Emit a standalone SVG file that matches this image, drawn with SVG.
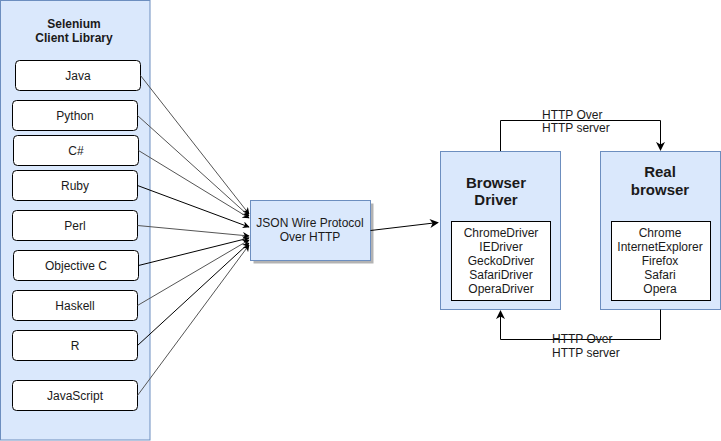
<svg xmlns="http://www.w3.org/2000/svg" width="721" height="441" viewBox="0 0 721 441">
<defs>
<marker id="ah" viewBox="0 0 10 10" refX="9" refY="5" markerWidth="7" markerHeight="7" markerUnits="userSpaceOnUse" orient="auto">
<path d="M0,0 L10,5 L0,10 L3,5 Z" fill="#000"/>
</marker>
<marker id="ah2" viewBox="0 0 10 10" refX="9" refY="5" markerWidth="9" markerHeight="9" markerUnits="userSpaceOnUse" orient="auto">
<path d="M0,0 L10,5 L0,10 L3,5 Z" fill="#000"/>
</marker>
</defs>
<style>
text{font-family:"Liberation Sans",Arial,sans-serif;font-size:12px;fill:#1a1a1a;text-anchor:middle}
.b{font-weight:bold}
.big{font-size:15px;font-weight:bold}
.blue{fill:#dae8fc;stroke:#6c8ebf;stroke-width:1}
.lang{fill:#fff;stroke:#000;stroke-width:1}
.inner{fill:#fff;stroke:#000;stroke-width:1}
.c{fill:none;stroke:#000;stroke-width:1}
.g{stroke:#555}
.l{text-anchor:start}
</style>
<rect width="721" height="441" fill="#fff"/>
<g id="client-library">
<rect class="blue" x="0.5" y="0.5" width="149.5" height="439.5"/>
<text class="b" x="74" y="28">Selenium</text>
<text class="b" x="74" y="42">Client Library</text>
</g>
<g id="java"><rect class="lang" x="15.5" y="60.5" width="125" height="30" rx="4"/><text x="78" y="79.5">Java</text></g>
<g id="python"><rect class="lang" x="12.5" y="100.5" width="125" height="30" rx="4"/><text x="75" y="119.5">Python</text></g>
<g id="csharp"><rect class="lang" x="13.5" y="135.5" width="125" height="30" rx="4"/><text x="76" y="154.5">C#</text></g>
<g id="ruby"><rect class="lang" x="12.5" y="170.5" width="125" height="30" rx="4"/><text x="75" y="189.5">Ruby</text></g>
<g id="perl"><rect class="lang" x="12.5" y="210.5" width="125" height="30" rx="4"/><text x="75" y="229.5">Perl</text></g>
<g id="objective-c"><rect class="lang" x="13.5" y="250.5" width="125" height="30" rx="4"/><text x="76" y="269.5">Objective C</text></g>
<g id="haskell"><rect class="lang" x="12.5" y="290.5" width="125" height="30" rx="4"/><text x="75" y="309.5">Haskell</text></g>
<g id="r"><rect class="lang" x="12.5" y="330.5" width="125" height="30" rx="4"/><text x="75" y="349.5">R</text></g>
<g id="javascript"><rect class="lang" x="12.5" y="380.5" width="125" height="30" rx="4"/><text x="75" y="399.5">JavaScript</text></g>
<g id="json-wire">
<rect x="253.5" y="203.5" width="120" height="60" fill="#b3b3b3"/>
<rect class="blue" x="250.5" y="200.5" width="120" height="60"/>
<text x="310" y="227">JSON Wire Protocol</text>
<text x="310" y="241">Over HTTP</text>
</g>
<g id="browser-driver">
<rect class="blue" x="440.5" y="151.5" width="120" height="158"/>
<text class="big" x="496" y="188">Browser</text>
<text class="big" x="496" y="205">Driver</text>
<rect class="inner" x="451.5" y="221.5" width="99" height="79"/>
<text x="501" y="237">ChromeDriver</text>
<text x="501" y="251">IEDriver</text>
<text x="501" y="265">GeckoDriver</text>
<text x="501" y="279">SafariDriver</text>
<text x="501" y="293">OperaDriver</text>
</g>
<g id="real-browser">
<rect class="blue" x="600.5" y="151.5" width="120" height="158"/>
<text class="big" x="660" y="177">Real</text>
<text class="big" x="660" y="195">browser</text>
<rect class="inner" x="611.5" y="221.5" width="99" height="79"/>
<text x="660" y="237">Chrome</text>
<text x="660" y="251">InternetExplorer</text>
<text x="660" y="265">Firefox</text>
<text x="660" y="279">Safari</text>
<text x="660" y="293">Opera</text>
</g>
<g id="connectors">
<line class="c g" x1="140.5" y1="75.5" x2="249" y2="214" marker-end="url(#ah)"/>
<line class="c g" x1="137.5" y1="115.5" x2="249" y2="216" marker-end="url(#ah)"/>
<line class="c g" x1="138.5" y1="150.5" x2="249" y2="218" marker-end="url(#ah)"/>
<line class="c" x1="137.5" y1="185.5" x2="249" y2="227" marker-end="url(#ah)"/>
<line class="c g" x1="137.5" y1="225.5" x2="249" y2="236" marker-end="url(#ah)"/>
<line class="c" x1="138.5" y1="265.5" x2="249" y2="238" marker-end="url(#ah)"/>
<line class="c g" x1="137.5" y1="305.5" x2="249" y2="240" marker-end="url(#ah)"/>
<line class="c" x1="137.5" y1="345.5" x2="249" y2="243" marker-end="url(#ah)"/>
<line class="c g" x1="137.5" y1="395.5" x2="249" y2="245" marker-end="url(#ah)"/>
<line class="c" x1="370.5" y1="230.5" x2="438" y2="222.5" marker-end="url(#ah2)"/>
<polyline class="c" points="500.5,151 500.5,120.5 660.5,120.5 660.5,150" marker-end="url(#ah2)"/>
<text class="l" x="542" y="119">HTTP Over</text>
<text class="l" x="542" y="132">HTTP server</text>
<polyline class="c" points="660.5,309.5 660.5,339.5 500.5,339.5 500.5,311" marker-end="url(#ah2)"/>
<text class="l" x="552" y="343">HTTP Over</text>
<text class="l" x="552" y="357">HTTP server</text>
</g>
</svg>
